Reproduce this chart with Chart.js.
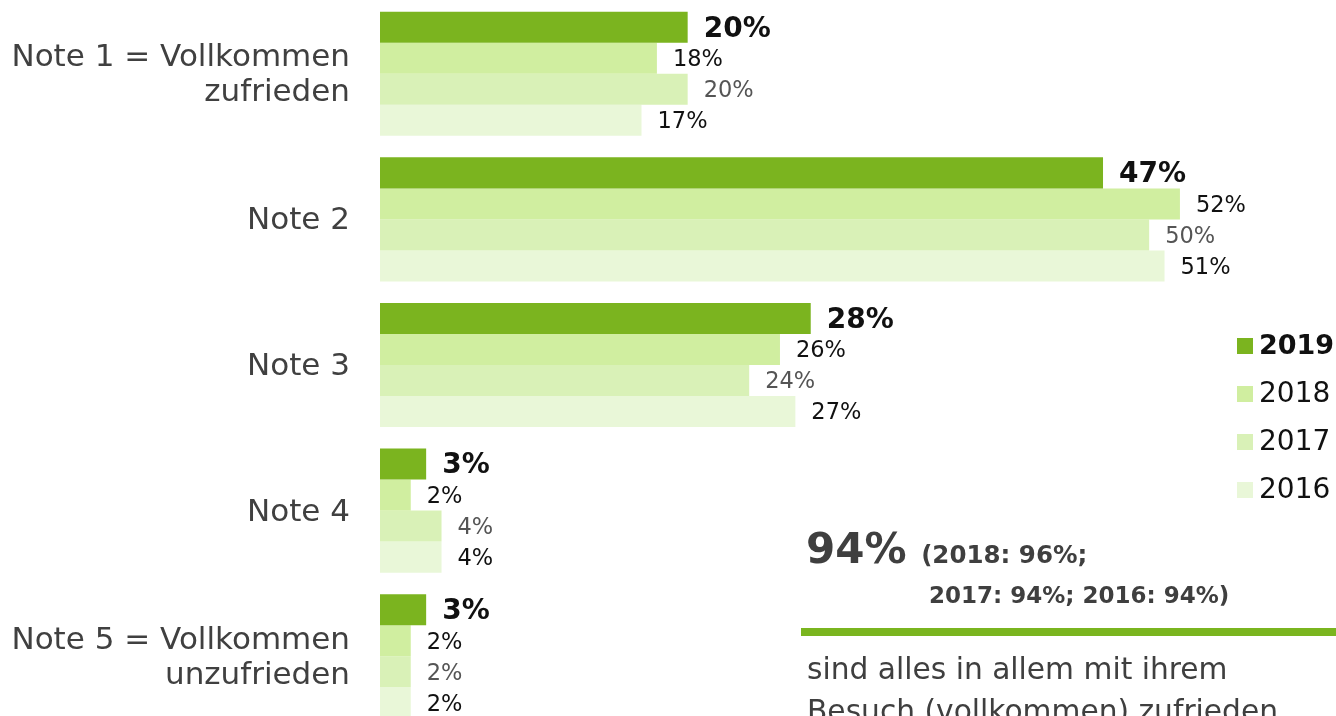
<!DOCTYPE html>
<html>
<head>
<meta charset="utf-8">
<script src="https://cdn.jsdelivr.net/npm/chart.js@4"></script>
<style>
  html, body { margin: 0; padding: 0; background: #fff; overflow: hidden; }
  #wrap { position: relative; width: 1336px; height: 730px; }
  .note { position: absolute; font-family: "DejaVu Sans", sans-serif; color: #3f3f3f; white-space: nowrap; }
  #big { left: 806px; top: 524px; font-size: 42px; font-weight: bold; line-height: 50px; }
  #big span { font-size: 24.5px; }
  #sub { left: 929px; top: 580px; font-size: 23px; font-weight: bold; line-height: 30px; }
  #rule { position: absolute; left: 801px; top: 628px; width: 535px; height: 8px; background: #7ab51f; }
  #txt { left: 807px; top: 648px; font-size: 29.7px; line-height: 42px; }
</style>
</head>
<body>
<div id="wrap">
  <canvas id="c"></canvas>
  <div class="note" id="big">94% <span>(2018: 96%;</span></div>
  <div class="note" id="sub">2017: 94%; 2016: 94%)</div>
  <div id="rule"></div>
  <div class="note" id="txt">sind alles in allem mit ihrem<br>Besuch (vollkommen) zufrieden</div>
</div>
<script>
const categories = [['Note 1 = Vollkommen', 'zufrieden'], 'Note 2', 'Note 3', 'Note 4', ['Note 5 = Vollkommen', 'unzufrieden']];
const years = ['2019', '2018', '2017', '2016'];
const v2019 = [20, 47, 28, 3, 3];
const v2018 = [18, 52, 26, 2, 2];
const v2017 = [20, 50, 24, 4, 2];
const v2016 = [17, 51, 27, 4, 2];

const colors = ['#7bb41f', '#d0eea0', '#d9f1b7', '#e9f7d8'];
const labelFonts = ['bold 28px "DejaVu Sans"', '22.5px "DejaVu Sans"', '22.5px "DejaVu Sans"', '22.5px "DejaVu Sans"'];
const labelColors = ['#111', '#111', '#555', '#111'];
const legendFonts = ['bold 27px "DejaVu Sans"', '28px "DejaVu Sans"', '28px "DejaVu Sans"', '28px "DejaVu Sans"'];

// value labels right of each bar
const valueLabels = {
  id: 'valueLabels',
  afterDatasetsDraw(chart) {
    const ctx = chart.ctx;
    ctx.save();
    ctx.textBaseline = 'middle';
    ctx.textAlign = 'left';
    chart.data.datasets.forEach((ds, i) => {
      const meta = chart.getDatasetMeta(i);
      ctx.font = labelFonts[i];
      ctx.fillStyle = labelColors[i];
      meta.data.forEach((el, j) => {
        ctx.fillText(ds.data[j] + '%', el.x + 16, el.y + 2);
      });
    });
    ctx.restore();
  }
};

// legend on the right, stacked
const sideLegend = {
  id: 'sideLegend',
  afterDraw(chart) {
    const ctx = chart.ctx;
    ctx.save();
    ctx.textBaseline = 'middle';
    chart.data.datasets.forEach((ds, i) => {
      const cy = 346 + i * 48;
      ctx.fillStyle = ds.backgroundColor;
      ctx.fillRect(1237, cy - 8, 16, 16);
      ctx.font = legendFonts[i];
      ctx.fillStyle = '#111';
      ctx.fillText(ds.label, 1259, cy + 1);
    });
    ctx.restore();
  }
};

new Chart(document.getElementById('c'), {
  type: 'bar',
  data: {
    labels: categories,
    datasets: [
      { label: years[0], data: v2019, backgroundColor: colors[0] },
      { label: years[1], data: v2018, backgroundColor: colors[1] },
      { label: years[2], data: v2017, backgroundColor: colors[2] },
      { label: years[3], data: v2016, backgroundColor: colors[3] }
    ]
  },
  options: {
    indexAxis: 'y',
    responsive: true,
    maintainAspectRatio: false,
    animation: false,
    layout: { padding: { top: 1, bottom: 1, right: 33, left: 0 } },
    datasets: { bar: { barPercentage: 1, categoryPercentage: 0.852, borderWidth: 0 } },
    plugins: { legend: { display: false }, tooltip: { enabled: false } },
    scales: {
      x: { display: false, min: 0, max: 60 },
      y: {
        grid: { display: false, drawTicks: false },
        border: { display: false },
        afterFit: (s) => { s.width = 380; s.paddingTop = 0; s.paddingBottom = 0; },
        ticks: {
          padding: 30,
          labelOffset: 2,
          color: '#404040',
          font: { family: 'DejaVu Sans', size: 31, lineHeight: 1.13 }
        }
      }
    }
  },
  plugins: [valueLabels, sideLegend]
});
</script>
</body>
</html>
